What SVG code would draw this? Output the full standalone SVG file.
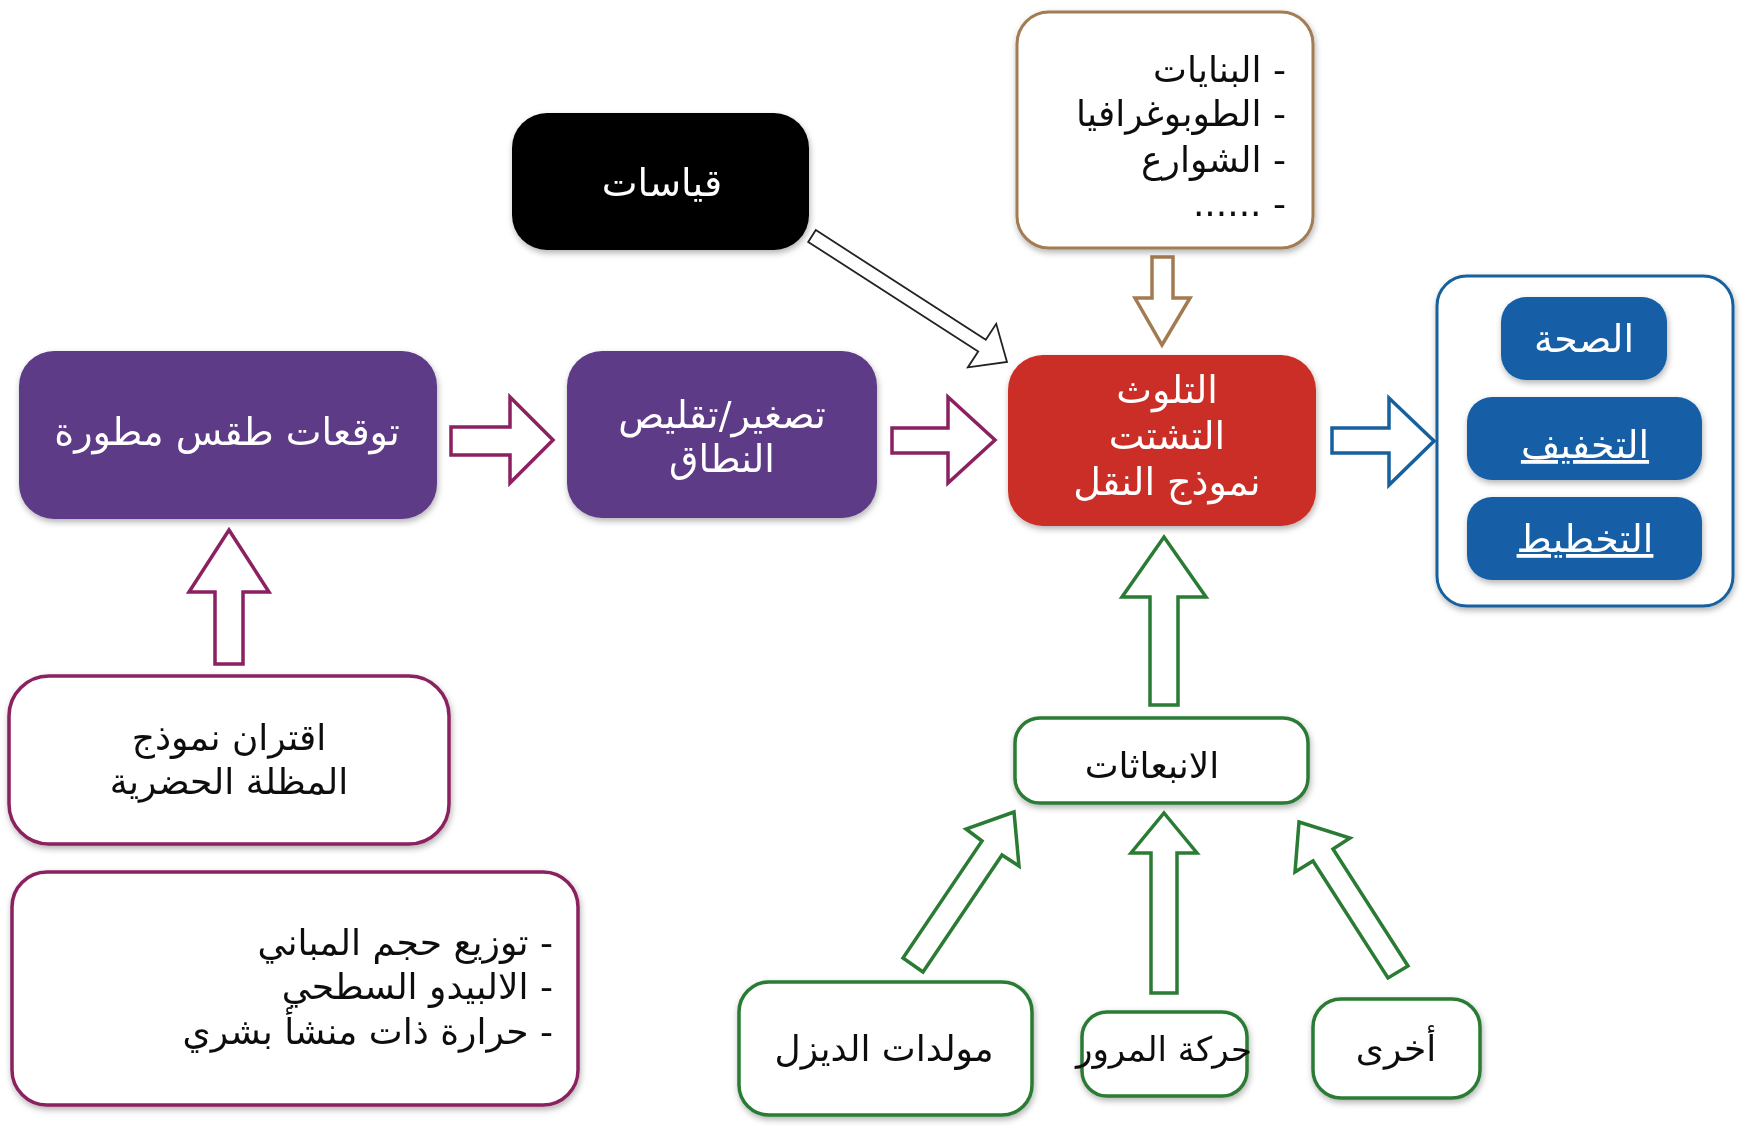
<svg xmlns="http://www.w3.org/2000/svg" width="1744" height="1129" viewBox="0 0 1744 1129">
<defs>
<filter id="sh" x="-10%" y="-10%" width="120%" height="125%">
<feDropShadow dx="1" dy="3" stdDeviation="3" flood-color="#000" flood-opacity="0.3"/>
</filter>
<style>
text{font-family:"DejaVu Sans","Noto Sans",sans-serif;direction:rtl;}
.w{fill:#fff;font-size:38px;text-anchor:middle;}
.k{fill:#111;font-size:36px;text-anchor:middle;}
.kr{fill:#111;font-size:36px;text-anchor:start;}
.purple{fill:#5d3a86;}
.maroonbox{fill:#fff;stroke:#8b2160;stroke-width:3.5;}
.greenbox{fill:#fff;stroke:#2a7b34;stroke-width:3.5;}
.blue{fill:#135ea6;}
.arr-m{fill:#fff;stroke:#8b2160;stroke-width:3.5;stroke-linejoin:miter;}
.arr-g{fill:#fff;stroke:#2a7b34;stroke-width:3.5;}
.arr-b{fill:#fff;stroke:#17609e;stroke-width:3.5;}
.arr-br{fill:#fff;stroke:#a27b52;stroke-width:3.5;}
.arr-k{fill:#fff;stroke:#222;stroke-width:1.8;}
</style>
</defs>
<rect width="1744" height="1129" fill="#fff"/>

<g id="connectors">
<polygon class="arr-m" points="451,427 510,427 510,397 553,440 510,483 510,455 451,455"/>
<polygon class="arr-m" points="892,428 948,428 948,397 995,440 948,483 948,453 892,453"/>
<polygon class="arr-b" points="1332,428 1389,428 1389,398 1434,441 1389,485 1389,453 1332,453"/>
<polygon class="arr-k" points="808.2,241.9 978.2,351.5 967.8,367.4 1007,362 996.2,323.8 985.8,339.7 815.8,230.1"/>
<polygon class="arr-br" points="1152,257 1173,257 1173,298 1190,298 1162,345 1135,298 1152,298"/>
<polygon class="arr-m" points="229,530 269,592 243,592 243,664 215,664 215,592 189,592"/>
<polygon class="arr-g" points="1164,537 1206,597 1178,597 1178,705 1150,705 1150,597 1122,597"/>
<polygon class="arr-g" points="1164,813 1197,853 1177,853 1177,993 1151,993 1151,853 1131,853"/>
<polygon class="arr-g" points="1014,812 1019,866 1002,855 923,972 903,958 982,841 966,829"/>
<polygon class="arr-g" points="1299,822 1350,838 1333,849 1408,966 1388,978 1313,861 1295,872"/>
</g>

<g id="node-measurements" filter="url(#sh)">
<rect x="512" y="113" width="297" height="137" rx="35" fill="#000"/>
<text class="w" x="662" y="196">قياسات</text>
</g>

<g id="node-urban" filter="url(#sh)">
<rect x="1017" y="12" width="296" height="236" rx="32" fill="#fff" stroke="#a27b52" stroke-width="3"/>
<text class="kr" x="1286" y="82">- البنايات</text>
<text class="kr" x="1286" y="126">- الطوبوغرافيا</text>
<text class="kr" x="1286" y="172">- الشوارع</text>
<text class="kr" x="1286" y="216">- ......</text>
</g>

<g id="node-weather" filter="url(#sh)">
<rect class="purple" x="19" y="351" width="418" height="168" rx="35"/>
<text class="w" x="227" y="445">توقعات طقس مطورة</text>
</g>

<g id="node-downscaling" filter="url(#sh)">
<rect class="purple" x="567" y="351" width="310" height="167" rx="35"/>
<text class="w" x="722" y="428">تصغير/تقليص</text>
<text class="w" x="722" y="472">النطاق</text>
</g>

<g id="node-pollution" filter="url(#sh)">
<rect x="1008" y="355" width="308" height="171" rx="35" fill="#cb2d25"/>
<text class="w" x="1167" y="403">التلوث</text>
<text class="w" x="1167" y="449">التشتت</text>
<text class="w" x="1167" y="495">نموذج النقل</text>
</g>

<g id="node-outcomes" filter="url(#sh)">
<rect x="1437" y="276" width="296" height="330" rx="30" fill="#fff" stroke="#17609e" stroke-width="3"/>
</g>
<g id="node-health" filter="url(#sh)">
<rect class="blue" x="1501" y="297" width="166" height="83" rx="25"/>
<text class="w" x="1584" y="352">الصحة</text>
</g>
<g id="node-mitigation" filter="url(#sh)">
<rect class="blue" x="1467" y="397" width="235" height="83" rx="25"/>
<text class="w" x="1585" y="458" text-decoration="underline">التخفيف</text>
</g>
<g id="node-planning" filter="url(#sh)">
<rect class="blue" x="1467" y="497" width="235" height="83" rx="25"/>
<text class="w" x="1585" y="552" text-decoration="underline">التخطيط</text>
</g>

<g id="node-ucm" filter="url(#sh)">
<rect class="maroonbox" x="9" y="676" width="440" height="168" rx="40"/>
<text class="k" x="229" y="750">اقتران نموذج</text>
<text class="k" x="229" y="794">المظلة الحضرية</text>
</g>

<g id="node-params" filter="url(#sh)">
<rect class="maroonbox" x="12" y="872" width="566" height="233" rx="35"/>
<text class="kr" x="553" y="955">- توزيع حجم المباني</text>
<text class="kr" x="553" y="999">- الالبيدو السطحي</text>
<text class="kr" x="553" y="1044">- حرارة ذات منشأ بشري</text>
</g>

<g id="node-emissions" filter="url(#sh)">
<rect class="greenbox" x="1015" y="718" width="293" height="85" rx="25"/>
<text class="k" x="1152" y="778">الانبعاثات</text>
</g>

<g id="node-diesel" filter="url(#sh)">
<rect class="greenbox" x="739" y="982" width="293" height="133" rx="30"/>
<text class="k" x="884" y="1061">مولدات الديزل</text>
</g>

<g id="node-traffic" filter="url(#sh)">
<rect class="greenbox" x="1082" y="1012" width="165" height="84" rx="25"/>
<text class="k" x="1164" y="1061" style="font-size:34px">حركة المرور</text>
</g>

<g id="node-other" filter="url(#sh)">
<rect class="greenbox" x="1313" y="999" width="167" height="99" rx="28"/>
<text class="k" x="1396" y="1061">أخرى</text>
</g>
</svg>
